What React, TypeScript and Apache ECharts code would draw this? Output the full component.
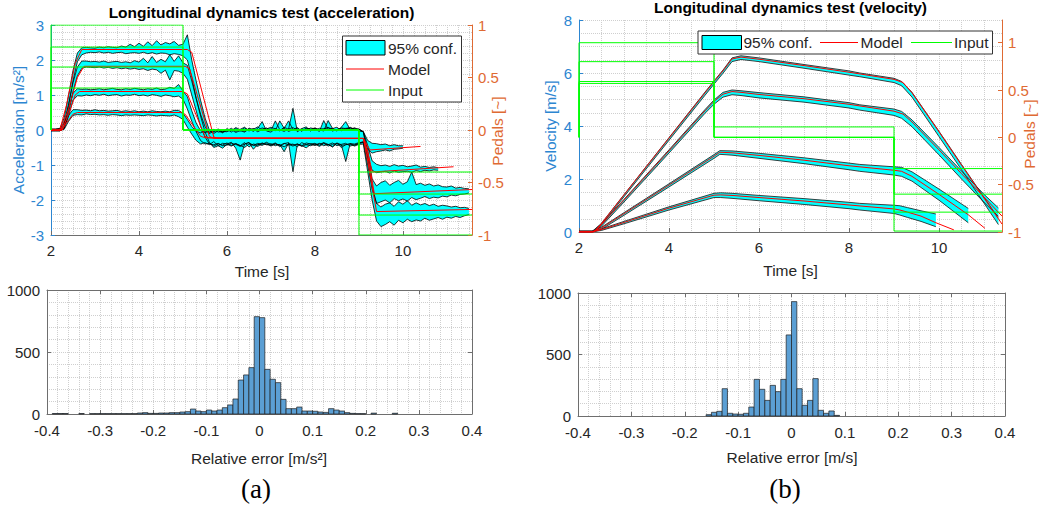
import React, { useEffect, useRef } from "react";
import * as echarts from "echarts";

// ---------------- acceleration test (left, top) ----------------
const accTime = [
  2.0, 2.1, 2.2, 2.3, 2.4, 2.5, 2.6, 2.7, 2.8, 2.9,
  3.0, 3.1, 3.2, 3.3, 3.4, 3.5, 3.6, 3.7, 3.8, 3.9,
  4.0, 4.1, 4.2, 4.3, 4.4, 4.5, 4.6, 4.7, 4.8, 4.9,
  5.0, 5.1, 5.2, 5.3, 5.4, 5.5, 5.6, 5.7, 5.8, 5.9,
  6.0, 6.1, 6.2, 6.3, 6.4, 6.5, 6.6, 6.7, 6.8, 6.9,
  7.0, 7.1, 7.2, 7.3, 7.4, 7.5, 7.6, 7.7, 7.8, 7.9,
  8.0, 8.1, 8.2, 8.3, 8.4, 8.5, 8.6, 8.7, 8.8, 8.9,
  9.0, 9.1, 9.2, 9.3, 9.4, 9.5, 9.6, 9.7, 9.8, 9.9,
  10.0, 10.1, 10.2, 10.3, 10.4, 10.5, 10.6, 10.7, 10.8, 10.9,
  11.0, 11.1, 11.2, 11.3, 11.4, 11.5,
];

const accLo1 = [
  -0.02, -0.02, -0.02, 0.02, 0.25, 0.42, 0.44, 0.43, 0.46, 0.44,
  0.45, 0.43, 0.44, 0.42, 0.44, 0.43, 0.41, 0.43, 0.42, 0.43,
  0.42, 0.41, 0.43, 0.42, 0.40, 0.42, 0.41, 0.40, 0.43, 0.38,
  0.30, 0.08, -0.12, -0.30, -0.40, -0.36, -0.42, -0.33, -0.45, -0.38,
  -0.40, -0.35, -0.52, -0.86, -0.40, -0.36, -0.44, -0.38, -0.41, -0.35,
  -0.42, -0.37, -0.48, -0.39, -0.36, -1.19, -0.41, -0.45, -0.37, -0.40,
  -0.38, -0.44, -0.36, -0.41, -0.49, -0.37, -0.42, -0.90, -0.39, -0.40,
  -0.36, -0.35, -0.55, -0.66, -0.62, -0.60, -0.57, -0.60, -0.55, -0.54,
  -0.52,
];
const accHi1 = [
  0.02, 0.02, 0.03, 0.12, 0.42, 0.58, 0.58, 0.56, 0.57, 0.55,
  0.58, 0.55, 0.56, 0.54, 0.55, 0.56, 0.53, 0.55, 0.53, 0.55,
  0.52, 0.54, 0.52, 0.55, 0.53, 0.52, 0.54, 0.52, 0.56, 0.56,
  0.48, 0.30, 0.10, -0.04, -0.08, -0.02, -0.08, 0.02, -0.06, -0.04,
  -0.05, 0.01, -0.07, -0.02, -0.06, 0.03, -0.04, 0.05, 0.24, -0.03,
  -0.06, 0.04, -0.02, 0.08, 0.02, 0.62, -0.05, 0.03, -0.01, 0.06,
  0.03, -0.04, 0.27, 0.02, 0.05, -0.03, 0.08, 0.24, 0.01, 0.05,
  -0.03, -0.05, -0.30, -0.38, -0.39, -0.42, -0.40, -0.45, -0.42, -0.45,
  -0.45,
];

const accLo2 = [
  -0.02, -0.02, -0.02, 0.05, 0.40, 0.85, 0.98, 0.97, 1.00, 0.98,
  1.01, 0.99, 1.02, 0.98, 1.00, 1.01, 0.97, 1.00, 0.99, 1.02,
  0.98, 1.00, 0.97, 1.01, 0.99, 0.96, 1.00, 0.98, 0.95, 0.97,
  0.88, 0.60, 0.25, -0.05, -0.30, -0.40, -0.38, -0.46, -0.40, -0.43,
  -0.37, -0.44, -0.39, -0.45, -0.36, -0.48, -0.40, -0.43, -0.37, -0.42,
  -0.39, -0.45, -0.41, -0.62, -0.38, -0.43, -0.40, -0.47, -0.42, -0.39,
  -0.44, -0.40, -0.37, -0.46, -0.41, -0.38, -0.50, -0.42, -0.39, -0.44,
  -0.38, -0.33, -0.80, -1.15, -1.22, -1.20, -1.18, -1.23, -1.17, -1.21,
  -1.19, -1.18, -1.21, -1.16, -1.19, -1.15, -1.17, -1.14, -1.15,
];
const accHi2 = [
  0.02, 0.02, 0.03, 0.20, 0.60, 1.05, 1.18, 1.16, 1.17, 1.15,
  1.16, 1.18, 1.15, 1.17, 1.19, 1.16, 1.15, 1.18, 1.16, 1.19,
  1.17, 1.15, 1.18, 1.16, 1.20, 1.15, 1.17, 1.22, 1.19, 1.30,
  1.12, 0.95, 0.55, 0.20, -0.02, -0.08, -0.03, -0.06, 0.01, -0.05,
  0.02, -0.06, 0.04, -0.03, 0.06, -0.01, 0.03, -0.05, 0.02, 0.06,
  -0.02, 0.26, 0.01, -0.04, 0.03, 0.07, -0.02, 0.04, 0.09, -0.03,
  0.05, -0.01, 0.04, 0.07, -0.03, 0.02, 0.05, 0.01, 0.06, 0.03,
  0.01, -0.05, -0.45, -0.88, -0.98, -1.02, -1.00, -1.04, -0.99, -1.03,
  -1.01, -1.05, -1.03, -1.00, -1.06, -1.04, -1.07, -1.05, -1.08,
];

const accLo3 = [
  -0.02, -0.02, -0.02, 0.05, 0.50, 1.10, 1.55, 1.76, 1.80, 1.79,
  1.78, 1.80, 1.77, 1.79, 1.76, 1.78, 1.75, 1.77, 1.74, 1.76,
  1.73, 1.75, 1.70, 1.74, 1.72, 1.62, 1.71, 1.43, 1.70, 1.68,
  1.62, 1.45, 1.00, 0.55, 0.10, -0.20, -0.40, -0.42, -0.38, -0.45,
  -0.43, -0.38, -0.41, -0.47, -0.40, -0.36, -0.55, -0.41, -0.44, -0.38,
  -0.46, -0.40, -0.44, -0.38, -0.43, -0.40, -0.48, -0.36, -0.42, -0.45,
  -0.40, -0.47, -0.39, -0.42, -0.37, -0.45, -0.41, -0.38, -0.46, -0.42,
  -0.39, -0.35, -1.00, -1.70, -2.10, -2.05, -2.00, -2.08, -1.96, -2.02,
  -1.97, -2.03, -1.93, -1.99, -1.95, -1.90, -1.96, -1.92, -1.94, -1.89,
  -1.91, -1.86, -1.88, -1.84, -1.83, -1.80,
];
const accHi3 = [
  0.02, 0.02, 0.03, 0.20, 0.75, 1.35, 1.80, 1.97, 1.97, 1.95,
  1.96, 1.94, 1.97, 1.93, 1.95, 1.96, 1.93, 1.95, 1.92, 1.98,
  1.94, 2.05, 1.92, 2.10, 1.93, 2.02, 1.95, 2.15, 1.96, 2.12,
  1.92, 1.85, 1.40, 0.90, 0.45, 0.10, -0.10, -0.04, 0.03, -0.07,
  -0.02, 0.05, -0.04, 0.02, 0.08, -0.03, 0.04, -0.01, 0.06, 0.02,
  0.03, -0.02, 0.26, 0.05, -0.04, 0.01, 0.07, -0.03, 0.04, 0.02,
  0.06, 0.01, -0.03, 0.27, 0.04, 0.08, -0.02, 0.05, 0.03, 0.06,
  0.02, -0.05, -0.60, -1.40, -1.60, -1.50, -1.45, -1.58, -1.50, -1.44,
  -1.55, -1.48, -1.20, -1.56, -1.52, -1.58, -1.54, -1.60, -1.57, -1.62,
  -1.63, -1.60, -1.66, -1.64, -1.67, -1.68,
];

const accLo4 = [
  -0.02, -0.02, -0.02, 0.10, 0.70, 1.40, 1.95, 2.15, 2.20, 2.22,
  2.21, 2.23, 2.20, 2.22, 2.19, 2.21, 2.22, 2.18, 2.20, 2.21,
  2.19, 2.22, 2.18, 2.21, 2.17, 2.20, 2.19, 2.15, 2.18, 2.16,
  2.12, 2.00, 1.50, 0.90, 0.40, -0.05, -0.35, -0.50, -0.45, -0.52,
  -0.41, -0.46, -0.39, -0.44, -0.50, -0.40, -0.43, -0.47, -0.38, -0.42,
  -0.44, -0.39, -0.43, -0.48, -0.41, -0.46, -0.40, -0.44, -0.51, -0.42,
  -0.43, -0.38, -0.45, -0.41, -0.47, -0.39, -0.44, -0.42, -0.40, -0.46,
  -0.41, -0.40, -1.20, -2.00, -2.60, -2.76, -2.70, -2.62, -2.72, -2.58,
  -2.65, -2.55, -2.62, -2.57, -2.60, -2.52, -2.58, -2.54, -2.50, -2.55,
  -2.49, -2.52, -2.47, -2.50, -2.45, -2.42,
];
const accHi4 = [
  0.02, 0.02, 0.04, 0.35, 1.00, 1.70, 2.20, 2.35, 2.36, 2.35,
  2.34, 2.37, 2.35, 2.38, 2.36, 2.35, 2.40, 2.37, 2.45, 2.38,
  2.48, 2.39, 2.52, 2.41, 2.55, 2.43, 2.50, 2.46, 2.53, 2.42,
  2.45, 2.72, 2.00, 1.40, 0.85, 0.35, 0.00, -0.10, -0.02, -0.08,
  0.04, -0.02, 0.07, 0.01, -0.04, 0.05, 0.02, 0.09, -0.01, 0.03,
  0.08, 0.03, -0.02, 0.05, 0.26, 0.01, 0.04, -0.03, 0.06, 0.02,
  -0.01, 0.05, 0.02, 0.07, 0.03, -0.02, 0.06, 0.04, 0.08, 0.01,
  0.03, -0.05, -0.80, -1.60, -2.10, -2.20, -2.12, -2.08, -2.18, -2.05,
  -2.12, -2.02, -2.15, -2.08, -2.14, -2.10, -2.16, -2.12, -2.18, -2.15,
  -2.17, -2.20, -2.18, -2.22, -2.21, -2.24,
];

const accModelT1 = [2.0, 2.25, 2.35, 2.5, 2.6, 4.95, 5.05, 5.4, 5.5, 9.1, 9.15, 9.25, 10.4];
const accModel1 = [0, 0, 0.2, 0.45, 0.5, 0.5, 0.45, -0.18, -0.22, -0.24, -0.35, -0.57, -0.47];
const accModelT2 = [2.0, 2.25, 2.4, 2.55, 2.65, 5.0, 5.1, 5.5, 5.6, 9.1, 9.2, 9.3, 11.15];
const accModel2 = [0, 0, 0.45, 1.0, 1.1, 1.1, 1.03, -0.18, -0.23, -0.24, -0.6, -1.2, -1.05];
const accModelT3 = [2.0, 2.22, 2.4, 2.6, 2.75, 5.05, 5.15, 5.6, 5.7, 9.1, 9.2, 9.35, 11.57];
const accModel3 = [0, 0, 0.6, 1.5, 1.82, 1.82, 1.75, -0.18, -0.24, -0.24, -0.7, -1.82, -1.7];
const accModelT4 = [2.0, 2.2, 2.35, 2.55, 2.7, 5.1, 5.2, 5.7, 5.8, 9.1, 9.2, 9.4, 11.57];
const accModel4 = [0, 0, 0.7, 1.9, 2.3, 2.3, 2.22, -0.2, -0.24, -0.24, -0.9, -2.33, -2.27];

const accInputT = [2, 2, 5, 5, 9, 9, 11.57];
const accInput1 = [0, 0.4, 0.4, 0, 0, -0.4, -0.4];
const accInput2 = [0, 0.6, 0.6, 0, 0, -0.61, -0.61];
const accInput3 = [0, 0.79, 0.79, 0, 0, -0.81, -0.81];
const accInput4 = [0, 1.0, 1.0, 0, 0, -1.0, -1.0];

// ---------------- velocity test (right, top) ----------------
const velTAB = [2.0, 2.3, 2.5, 3.0, 4.0, 4.8, 5.0, 5.2, 5.4, 5.6, 6.0, 7.0, 8.0, 8.24, 9.0, 9.17, 9.4, 10.0, 10.5, 11.0, 11.32];
const velHiA = [0.03, 0.03, 0.33, 1.41, 3.56, 5.28, 5.7, 6.11, 6.57, 6.65, 6.57, 6.32, 6.08, 6.0, 5.8, 5.68, 5.27, 3.8, 2.55, 1.31, 0.52];
const velLoA = [0, 0, 0.27, 1.33, 3.46, 5.16, 5.58, 5.99, 6.43, 6.51, 6.43, 6.18, 5.92, 5.86, 5.64, 5.52, 5.09, 3.6, 2.35, 1.09, 0.28];
const velHiB = [0.03, 0.03, 0.3, 1.23, 3.1, 4.62, 4.98, 5.27, 5.36, 5.33, 5.26, 5.1, 4.88, 4.8, 4.64, 4.55, 4.23, 3.19, 2.3, 1.42, 0.91];
const velLoB = [0, 0, 0.22, 1.13, 2.98, 4.48, 4.82, 5.09, 5.18, 5.15, 5.06, 4.9, 4.68, 4.6, 4.4, 4.29, 3.97, 2.91, 2.0, 1.12, 0.59];
const velTC = [2.0, 2.28, 2.5, 3.0, 4.0, 5.0, 5.13, 5.4, 6.0, 7.0, 8.0, 8.24, 9.0, 9.17, 9.4, 10.0, 10.65];
const velHiC = [0.03, 0.03, 0.18, 0.73, 1.82, 2.92, 3.07, 3.06, 2.97, 2.8, 2.6, 2.55, 2.46, 2.44, 2.27, 1.62, 0.89];
const velLoC = [0, 0, 0.1, 0.63, 1.7, 2.78, 2.93, 2.9, 2.78, 2.58, 2.35, 2.29, 2.15, 2.1, 1.92, 1.2, 0.35];
const velTD = [2.0, 2.28, 2.5, 3.0, 4.0, 5.0, 5.15, 5.4, 6.0, 7.0, 8.0, 8.24, 9.0, 9.13, 9.3, 9.6, 9.93];
const velHiD = [0.03, 0.03, 0.12, 0.4, 0.95, 1.46, 1.48, 1.46, 1.38, 1.26, 1.12, 1.08, 1.01, 0.99, 0.92, 0.8, 0.68];
const velLoD = [0, 0, 0.06, 0.31, 0.83, 1.3, 1.3, 1.27, 1.18, 1.04, 0.88, 0.83, 0.7, 0.64, 0.55, 0.4, 0.2];

const velModelTAB = [2.0, 2.33, 2.5, 3.0, 4.0, 4.8, 5.0, 5.2, 5.4, 5.6, 6.0, 7.0, 8.0, 9.0, 9.2, 9.4, 10.0, 10.5, 11.0, 11.4];
const velModelA = [0, 0, 0.32, 1.4, 3.54, 5.25, 5.67, 6.08, 6.53, 6.6, 6.52, 6.28, 6.03, 5.76, 5.64, 5.25, 3.78, 2.52, 1.28, 0.3];
const velModelB = [0, 0, 0.28, 1.2, 3.06, 4.57, 4.93, 5.2, 5.3, 5.27, 5.19, 5.03, 4.82, 4.56, 4.45, 4.15, 3.1, 2.2, 1.32, 0.6];
const velModelTC = [2.0, 2.28, 2.5, 3.0, 4.0, 5.0, 5.13, 5.4, 6.0, 7.0, 8.0, 9.0, 9.17, 9.4, 10.0, 10.65, 11.02];
const velModelC = [0, 0, 0.15, 0.69, 1.77, 2.86, 3.01, 2.99, 2.89, 2.71, 2.5, 2.33, 2.29, 2.1, 1.42, 0.65, 0.14];
const velModelTD = [2.0, 2.28, 2.5, 3.0, 4.0, 5.0, 5.15, 5.4, 6.0, 7.0, 8.0, 9.0, 9.13, 9.3, 9.6, 9.93, 10.33];
const velModelD = [0, 0, 0.09, 0.36, 0.9, 1.39, 1.4, 1.38, 1.3, 1.17, 1.02, 0.87, 0.83, 0.75, 0.6, 0.35, 0.08];

const velInputT = [2, 2, 5, 5, 9, 9, 11.4];
const velInput1 = [0, 0.57, 0.57, 0.11, 0.11, -0.33, -0.33];
const velInput2 = [0, 0.59, 0.59, 0, 0, -0.6, -0.6];
const velInput3 = [0, 0.8, 0.8, 0, 0, -0.79, -0.79];
const velInput4 = [0, 1.0, 1.0, 0, 0, -0.99, -0.99];

// ---------------- histograms (bottom) ----------------
const binWidth = 0.01;
const binLeft = [
  -0.40, -0.39, -0.38, -0.37, -0.36, -0.35, -0.34, -0.33, -0.32, -0.31,
  -0.30, -0.29, -0.28, -0.27, -0.26, -0.25, -0.24, -0.23, -0.22, -0.21,
  -0.20, -0.19, -0.18, -0.17, -0.16, -0.15, -0.14, -0.13, -0.12, -0.11,
  -0.10, -0.09, -0.08, -0.07, -0.06, -0.05, -0.04, -0.03, -0.02, -0.01,
  0.00, 0.01, 0.02, 0.03, 0.04, 0.05, 0.06, 0.07, 0.08, 0.09,
  0.10, 0.11, 0.12, 0.13, 0.14, 0.15, 0.16, 0.17, 0.18, 0.19,
  0.20, 0.21, 0.22, 0.23, 0.24, 0.25, 0.26, 0.27, 0.28, 0.29,
  0.30, 0.31, 0.32, 0.33, 0.34, 0.35, 0.36, 0.37, 0.38, 0.39,
];
const countsAcc = [
  0, 4, 4, 4, 0, 0, 4, 0, 3, 3,
  3, 3, 3, 3, 3, 3, 3, 8, 11, 5,
  5, 8, 8, 11, 11, 16, 19, 40, 24, 19,
  32, 24, 32, 51, 73, 121, 274, 315, 374, 785,
  777, 360, 280, 253, 118, 43, 43, 56, 24, 24,
  22, 16, 13, 43, 32, 24, 11, 5, 3, 3,
  0, 7, 0, 0, 0, 6, 0, 0, 0, 0,
  0, 0, 0, 0, 0, 0, 0, 0, 0, 0,
];
const countsVel = [
  0, 0, 0, 0, 0, 0, 0, 0, 0, 0,
  0, 0, 0, 0, 0, 0, 0, 0, 0, 0,
  0, 0, 0, 0, 11, 30, 38, 222, 22, 16,
  14, 22, 73, 298, 217, 127, 249, 198, 298, 659,
  930, 222, 87, 127, 304, 46, 22, 41, 5, 0,
  0, 0, 0, 0, 0, 0, 0, 0, 0, 0,
  0, 0, 0, 0, 0, 0, 0, 0, 0, 0,
  0, 0, 0, 0, 0, 0, 0, 0, 0, 0,
];

const accTicksLeft = [-3, -2, -1, 0, 1, 2, 3];
const pedalTicks = [-1, -0.5, 0, 0.5, 1];

// ---------------- styling ----------------
const FONT = "'Liberation Sans', Arial, Helvetica, sans-serif";
const SERIF = "'Liberation Serif', 'DejaVu Serif', serif";
const BLUE = "#2C86D1";
const ORANGE = "#DF6A33";
const AX = "#6E6E6E";
const TXT = "#262626";
const GRIDC = "#CFCFCF";
const CYAN = "#00FFFF";
const RED = "#FF0000";
const GREEN = "#00FF00";
const BAR = "#5B9FD4";

const plain = (v: number) => String(v);
const zip = (t: number[], v: number[]) => v.map((y, i) => [t[i], y]);

function lineSeries(xi: number, yi: number, data: number[][], color: string, width: number) {
  return {
    type: "line",
    xAxisIndex: xi,
    yAxisIndex: yi,
    data,
    symbol: "none",
    showSymbol: false,
    silent: true,
    lineStyle: { color, width },
    itemStyle: { color },
    emphasis: { disabled: true },
  };
}

function bandSeries(xi: number, yi: number, bands: { t: number[]; lo: number[]; hi: number[] }[]) {
  return {
    type: "custom",
    xAxisIndex: xi,
    yAxisIndex: yi,
    silent: true,
    clip: true,
    data: bands.map((b, i) => [b.t[0], b.lo[0], i]),
    encode: { x: 0, y: 1 },
    renderItem: (params: any, api: any) => {
      const b = bands[api.value(2)];
      const pts: number[][] = [];
      for (let i = 0; i < b.hi.length; i++) pts.push(api.coord([b.t[i], b.hi[i]]));
      for (let i = b.lo.length - 1; i >= 0; i--) pts.push(api.coord([b.t[i], b.lo[i]]));
      return { type: "polygon", shape: { points: pts }, style: { fill: CYAN, stroke: "none" } };
    },
  };
}

function histSeries(xi: number, yi: number, counts: number[]) {
  return {
    type: "custom",
    xAxisIndex: xi,
    yAxisIndex: yi,
    silent: true,
    data: binLeft.map((x, i) => [x, x + binWidth, counts[i]]).filter((d) => d[2] > 0),
    encode: { x: [0, 1], y: 2 },
    renderItem: (params: any, api: any) => {
      const p0 = api.coord([api.value(0), api.value(2)]);
      const p1 = api.coord([api.value(1), 0]);
      return {
        type: "rect",
        shape: { x: p0[0], y: p0[1], width: p1[0] - p0[0], height: p1[1] - p0[1] },
        style: { fill: BAR, stroke: "#1E1E1E", lineWidth: 0.7 },
      };
    },
  };
}

const dotted = (color: string) => ({ show: true, lineStyle: { color, type: "dotted", width: 1 } });

function valueAxis(opts: any) {
  const { color = AX, labelColor = TXT, labels = true, margin = 8, showMax = true, ...rest } = opts;
  return {
    type: "value",
    axisLine: { show: true, onZero: false, lineStyle: { color, width: 1 } },
    axisTick: { show: true, inside: true, length: 4, lineStyle: { color } },
    axisLabel: {
      show: labels,
      color: labelColor,
      fontSize: 15,
      fontFamily: FONT,
      margin,
      showMaxLabel: showMax,
      formatter: plain,
    },
    splitLine: { show: false },
    ...rest,
  };
}

function hiddenGridAxis(opts: any) {
  return {
    type: "value",
    axisLine: { show: false, onZero: false },
    axisTick: { show: false },
    axisLabel: { show: false },
    splitLine: dotted(GRIDC),
    ...opts,
  };
}

function txt(text: string, x: number, y: number, o: any = {}) {
  return {
    type: "text",
    x,
    y,
    rotation: o.rotation || 0,
    z: 120,
    silent: true,
    style: {
      text,
      fill: o.fill || TXT,
      fontSize: o.fontSize || 15.5,
      fontFamily: o.fontFamily || FONT,
      fontWeight: o.fontWeight || "normal",
      align: o.align || "center",
      verticalAlign: "middle",
    },
  };
}

function buildOption() {
  const accBands = [
    { t: accTime, lo: accLo1, hi: accHi1 },
    { t: accTime, lo: accLo2, hi: accHi2 },
    { t: accTime, lo: accLo3, hi: accHi3 },
    { t: accTime, lo: accLo4, hi: accHi4 },
  ];
  const velBands = [
    { t: velTAB, lo: velLoA, hi: velHiA },
    { t: velTAB, lo: velLoB, hi: velHiB },
    { t: velTC, lo: velLoC, hi: velHiC },
    { t: velTD, lo: velLoD, hi: velHiD },
  ];
  const accModels = [
    zip(accModelT1, accModel1),
    zip(accModelT2, accModel2),
    zip(accModelT3, accModel3),
    zip(accModelT4, accModel4),
  ];
  const accInputs = [accInput1, accInput2, accInput3, accInput4].map((v) => zip(accInputT, v));
  const velModels = [
    zip(velModelTAB, velModelA),
    zip(velModelTAB, velModelB),
    zip(velModelTC, velModelC),
    zip(velModelTD, velModelD),
  ];
  const velInputs = [velInput1, velInput2, velInput3, velInput4].map((v) => zip(velInputT, v));

  const series: any[] = [];
  // acceleration plot
  series.push(bandSeries(0, 0, accBands));
  accBands.forEach((b) => {
    series.push(lineSeries(0, 0, zip(b.t, b.lo), "#000000", 0.8));
    series.push(lineSeries(0, 0, zip(b.t, b.hi), "#000000", 0.8));
  });
  accModels.forEach((d) => series.push(lineSeries(0, 0, d, RED, 1)));
  accInputs.forEach((d) => series.push(lineSeries(0, 1, d, GREEN, 1)));
  // velocity plot
  series.push(bandSeries(2, 2, velBands));
  velBands.forEach((b) => {
    series.push(lineSeries(2, 2, zip(b.t, b.lo), "#2A2A2A", 0.9));
    series.push(lineSeries(2, 2, zip(b.t, b.hi), "#2A2A2A", 0.9));
  });
  velModels.forEach((d) => series.push(lineSeries(2, 2, d, RED, 1)));
  velInputs.forEach((d) => series.push(lineSeries(2, 3, d, GREEN, 1)));
  // histograms
  series.push(histSeries(4, 4, countsAcc));
  series.push(histSeries(6, 6, countsVel));

  const legendA = [
    { type: "rect", z: 110, silent: true, shape: { x: 342.5, y: 36, width: 119, height: 66 }, style: { fill: "#FFFFFF", stroke: "#333333", lineWidth: 1 } },
    { type: "rect", z: 111, silent: true, shape: { x: 346, y: 40.5, width: 39, height: 14.5 }, style: { fill: CYAN, stroke: "#000000", lineWidth: 1 } },
    { type: "line", z: 111, silent: true, shape: { x1: 346, y1: 69, x2: 384, y2: 69 }, style: { stroke: RED, lineWidth: 1 } },
    { type: "line", z: 111, silent: true, shape: { x1: 346, y1: 90, x2: 384, y2: 90 }, style: { stroke: GREEN, lineWidth: 1 } },
    txt("95% conf.", 388, 48.5, { align: "left" }),
    txt("Model", 388, 69.5, { align: "left" }),
    txt("Input", 388, 90.5, { align: "left" }),
  ];
  const legendB = [
    { type: "rect", z: 110, silent: true, shape: { x: 698, y: 31, width: 294.5, height: 23 }, style: { fill: "#FFFFFF", stroke: "#333333", lineWidth: 1 } },
    { type: "rect", z: 111, silent: true, shape: { x: 702, y: 35.5, width: 39.5, height: 14 }, style: { fill: CYAN, stroke: "#000000", lineWidth: 1 } },
    { type: "line", z: 111, silent: true, shape: { x1: 820, y1: 42.5, x2: 858, y2: 42.5 }, style: { stroke: RED, lineWidth: 1 } },
    { type: "line", z: 111, silent: true, shape: { x1: 911, y1: 42.5, x2: 952, y2: 42.5 }, style: { stroke: GREEN, lineWidth: 1 } },
    txt("95% conf.", 743.5, 42.5, { align: "left" }),
    txt("Model", 860.5, 42.5, { align: "left" }),
    txt("Input", 954, 42.5, { align: "left" }),
  ];

  const texts = [
    txt("Longitudinal dynamics test (acceleration)", 261.5, 12.5, { fontWeight: "bold", fill: "#000" }),
    txt("Longitudinal dynamics test (velocity)", 790.5, 7.5, { fontWeight: "bold", fill: "#000" }),
    txt("Acceleration [m/s²]", 18, 130, { rotation: Math.PI / 2, fill: BLUE }),
    txt("Pedals [~]", 497.5, 131, { rotation: Math.PI / 2, fill: ORANGE }),
    txt("Velocity [m/s]", 550, 126, { rotation: Math.PI / 2, fill: BLUE }),
    txt("Pedals [~]", 1029, 134, { rotation: Math.PI / 2, fill: ORANGE }),
    txt("Time [s]", 262, 271.5),
    txt("Time [s]", 790.5, 270),
    txt("Relative error [m/s²]", 259, 458.5),
    txt("Relative error [m/s]", 792, 457),
    txt("(a)", 256, 489, { fontFamily: SERIF, fontSize: 27, fill: "#000" }),
    txt("(b)", 785, 489, { fontFamily: SERIF, fontSize: 27, fill: "#000" }),
  ];

  return {
    animation: false,
    backgroundColor: "#FFFFFF",
    grid: [
      { left: 51, top: 25, width: 421, height: 210, outerBoundsMode: "none" },
      { left: 579, top: 20, width: 423, height: 212, outerBoundsMode: "none" },
      { left: 47, top: 290, width: 425, height: 124, outerBoundsMode: "none" },
      { left: 578, top: 293, width: 427, height: 123, outerBoundsMode: "none" },
    ],
    xAxis: [
      valueAxis({ gridIndex: 0, min: 2, max: 11.57, interval: 2, position: "bottom", margin: 8, showMax: false }),
      hiddenGridAxis({ gridIndex: 0, min: 2, max: 11.57, interval: 0.25, position: "top" }),
      valueAxis({ gridIndex: 1, min: 2, max: 11.4, interval: 2, position: "bottom", margin: 8, showMax: false }),
      hiddenGridAxis({ gridIndex: 1, min: 2, max: 11.4, interval: 0.5, position: "top" }),
      valueAxis({
        gridIndex: 2, min: -0.4, max: 0.4, interval: 0.1, position: "bottom", margin: 9,
        splitLine: dotted(GRIDC), minorTick: { show: false, splitNumber: 5 }, minorSplitLine: dotted(GRIDC),
      }),
      valueAxis({ gridIndex: 2, min: -0.4, max: 0.4, interval: 0.1, position: "top", labels: false }),
      valueAxis({
        gridIndex: 3, min: -0.4, max: 0.4, interval: 0.1, position: "bottom", margin: 9,
        splitLine: dotted(GRIDC), minorTick: { show: false, splitNumber: 5 }, minorSplitLine: dotted(GRIDC),
      }),
      valueAxis({ gridIndex: 3, min: -0.4, max: 0.4, interval: 0.1, position: "top", labels: false }),
    ],
    yAxis: [
      valueAxis({
        gridIndex: 0, min: accTicksLeft[0], max: accTicksLeft[accTicksLeft.length - 1], interval: 1, position: "left",
        color: BLUE, labelColor: BLUE, margin: 7,
        splitLine: dotted(GRIDC), minorTick: { show: false, splitNumber: 5 }, minorSplitLine: dotted(GRIDC),
      }),
      valueAxis({ gridIndex: 0, min: pedalTicks[0], max: pedalTicks[pedalTicks.length - 1], interval: 0.5, position: "right", color: ORANGE, labelColor: ORANGE, margin: 6 }),
      valueAxis({
        gridIndex: 1, min: 0, max: 8, interval: 2, position: "left",
        color: BLUE, labelColor: BLUE, margin: 7,
        splitLine: dotted(GRIDC), minorTick: { show: false, splitNumber: 4 }, minorSplitLine: dotted(GRIDC),
      }),
      valueAxis({
        gridIndex: 1, min: -1, max: 1.24, interval: 0.5, position: "right", color: ORANGE, labelColor: ORANGE,
        margin: 6, showMax: false,
      }),
      valueAxis({
        gridIndex: 2, min: 0, max: 1000, interval: 500, position: "left", margin: 7,
        splitLine: dotted(GRIDC), minorTick: { show: false, splitNumber: 5 }, minorSplitLine: dotted(GRIDC),
      }),
      valueAxis({ gridIndex: 2, min: 0, max: 1000, interval: 500, position: "right", labels: false }),
      valueAxis({
        gridIndex: 3, min: 0, max: 1000, interval: 500, position: "left", margin: 7,
        splitLine: dotted(GRIDC), minorTick: { show: false, splitNumber: 5 }, minorSplitLine: dotted(GRIDC),
      }),
      valueAxis({ gridIndex: 3, min: 0, max: 1000, interval: 500, position: "right", labels: false }),
    ],
    series,
    graphic: [...legendA, ...legendB, ...texts],
  };
}

export default function App() {
  const ref = useRef<HTMLDivElement>(null);
  useEffect(() => {
    if (!ref.current) return;
    const chart = echarts.init(ref.current, null, { renderer: "svg" });
    chart.setOption(buildOption() as any);
    return () => chart.dispose();
  }, []);
  return (
    <div
      ref={ref}
      style={{ position: "fixed", left: 0, top: 0, width: 1046, height: 511, background: "#FFFFFF" }}
    />
  );
}
